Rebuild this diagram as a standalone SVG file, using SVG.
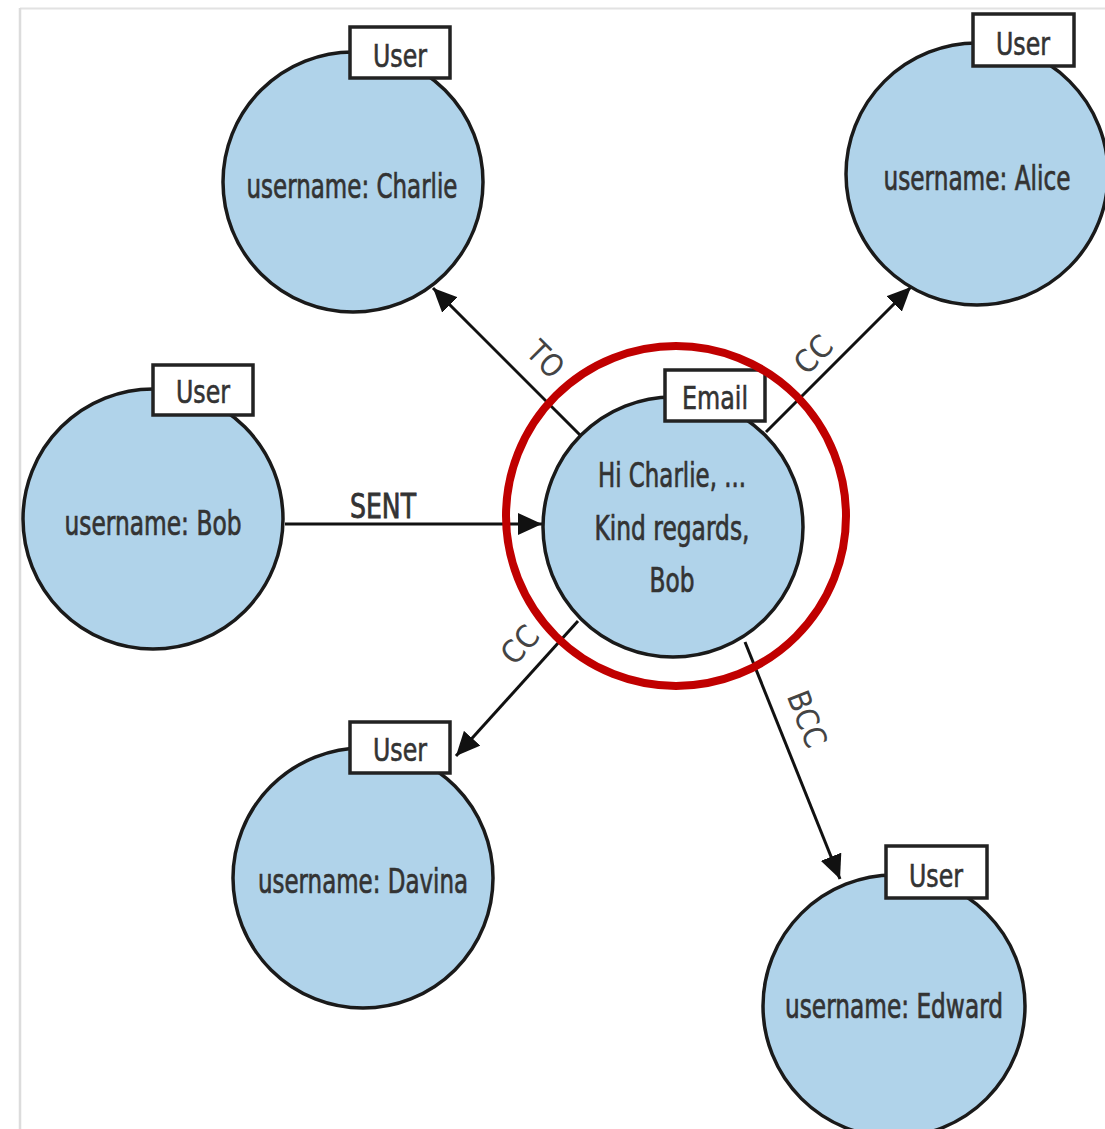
<svg xmlns="http://www.w3.org/2000/svg" width="1105" height="1129" viewBox="0 0 1105 1129">
  <defs>
    <marker id="head" viewBox="0 0 24 22" refX="24" refY="11" markerWidth="24" markerHeight="22" markerUnits="userSpaceOnUse" orient="auto">
      <path d="M0,0 L24,11 L0,22 z" fill="#111"/>
    </marker>
  </defs>
  <style>
    .node { fill: #b0d3ea; stroke: #1a1a1a; stroke-width: 3.5; }
    .tag { fill: #ffffff; stroke: #222; stroke-width: 3.5; }
    .txt { font-family: "Liberation Sans Narrow", "DejaVu Sans Condensed", "Liberation Sans", sans-serif; fill: #333; text-anchor: middle; }
    .body { font-size: 34px; stroke: #333; stroke-width: 0.7; }
    .tagtxt { font-size: 32px; stroke: #333; stroke-width: 0.6; }
    .edge { stroke: #111; stroke-width: 3; fill: none; marker-end: url(#head); }
    .elabel { font-size: 31px; fill: #444; }
    .sent { font-size: 34px; stroke: #333; stroke-width: 0.8; }
  </style>

  <rect x="0" y="0" width="1105" height="1129" fill="#ffffff"/>
  <!-- page frame -->
  <line x1="20" y1="8.5" x2="1105" y2="8.5" stroke="#e2e2e2" stroke-width="2"/>
  <line x1="20" y1="8" x2="20" y2="1129" stroke="#dcdcdc" stroke-width="2.5"/>

  <!-- relationships -->
  <g id="connectors">
    <line class="edge" x1="580" y1="435" x2="433" y2="288"/>
    <line class="edge" x1="766" y1="432" x2="911" y2="287"/>
    <line class="edge" x1="285" y1="524" x2="542" y2="524"/>
    <line class="edge" x1="578" y1="621" x2="456" y2="756"/>
    <line class="edge" x1="745" y1="642" x2="840" y2="879"/>
    <text class="txt sent" x="383" y="518" textLength="66" lengthAdjust="spacingAndGlyphs">SENT</text>
    <text class="txt elabel" transform="translate(538,367) rotate(45)" textLength="38" lengthAdjust="spacingAndGlyphs">TO</text>
    <text class="txt elabel" transform="translate(821,362) rotate(-45)" textLength="40" lengthAdjust="spacingAndGlyphs">CC</text>
    <text class="txt elabel" transform="translate(528,652) rotate(-48)" textLength="40" lengthAdjust="spacingAndGlyphs">CC</text>
    <text class="txt elabel" transform="translate(797,723) rotate(68.6)" textLength="58" lengthAdjust="spacingAndGlyphs">BCC</text>
  </g>

  <g id="user-charlie">
    <circle class="node" cx="353" cy="182" r="130"/>
    <rect class="tag" x="350" y="27" width="100" height="51"/>
    <text class="txt tagtxt" x="400" y="67" textLength="54" lengthAdjust="spacingAndGlyphs">User</text>
    <text class="txt body" x="352" y="198" textLength="211" lengthAdjust="spacingAndGlyphs">username: Charlie</text>
  </g>

  <g id="user-alice">
    <circle class="node" cx="977" cy="174" r="131"/>
    <rect class="tag" x="973" y="14" width="101" height="52"/>
    <text class="txt tagtxt" x="1023" y="55" textLength="54" lengthAdjust="spacingAndGlyphs">User</text>
    <text class="txt body" x="977" y="190" textLength="187" lengthAdjust="spacingAndGlyphs">username: Alice</text>
  </g>

  <g id="user-bob">
    <circle class="node" cx="153" cy="519" r="130"/>
    <rect class="tag" x="153" y="365" width="100" height="50"/>
    <text class="txt tagtxt" x="203" y="403" textLength="54" lengthAdjust="spacingAndGlyphs">User</text>
    <text class="txt body" x="153" y="535" textLength="177" lengthAdjust="spacingAndGlyphs">username: Bob</text>
  </g>

  <g id="email">
    <circle class="node" cx="673" cy="527" r="130"/>
    <rect class="tag" x="665" y="370" width="100" height="51"/>
    <text class="txt tagtxt" x="715" y="409" textLength="66" lengthAdjust="spacingAndGlyphs">Email</text>
    <text class="txt body" x="672" y="487" textLength="148" lengthAdjust="spacingAndGlyphs">Hi Charlie, ...</text>
    <text class="txt body" x="672" y="540" textLength="155" lengthAdjust="spacingAndGlyphs">Kind regards,</text>
    <text class="txt body" x="672" y="592" textLength="45" lengthAdjust="spacingAndGlyphs">Bob</text>
  </g>

  <g id="user-davina">
    <circle class="node" cx="363" cy="878" r="130"/>
    <rect class="tag" x="350" y="722" width="100" height="51"/>
    <text class="txt tagtxt" x="400" y="761" textLength="54" lengthAdjust="spacingAndGlyphs">User</text>
    <text class="txt body" x="363" y="893" textLength="210" lengthAdjust="spacingAndGlyphs">username: Davina</text>
  </g>

  <g id="user-edward">
    <circle class="node" cx="894" cy="1006" r="131"/>
    <rect class="tag" x="886" y="846" width="101" height="52"/>
    <text class="txt tagtxt" x="936" y="887" textLength="54" lengthAdjust="spacingAndGlyphs">User</text>
    <text class="txt body" x="894" y="1018" textLength="218" lengthAdjust="spacingAndGlyphs">username: Edward</text>
  </g>

  <!-- highlight ring around the email node -->
  <circle id="highlight" cx="676" cy="516" r="170" fill="none" stroke="#c00000" stroke-width="8"/>
</svg>
